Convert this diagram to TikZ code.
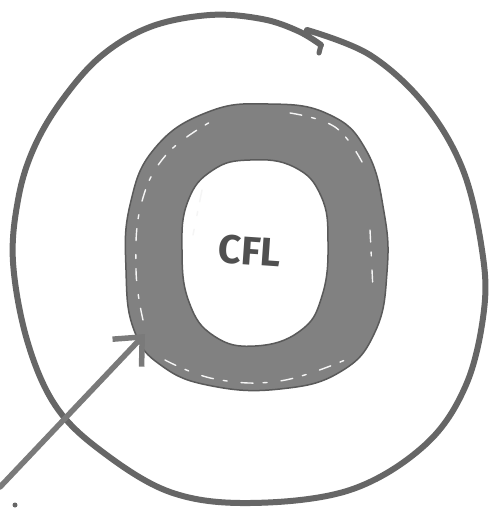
\documentclass[tikz,border=0pt]{standalone}
\usepackage{fontspec}
\setmainfont{Fira Sans}
\usetikzlibrary{arrows.meta}
\definecolor{penline}{HTML}{666666}
\definecolor{arrowline}{HTML}{7A7A7A}
\definecolor{ringfill}{HTML}{818181}
\definecolor{ringedge}{HTML}{5A5A5A}
\definecolor{textgray}{HTML}{505050}
\tikzset{
  pen/.style={draw=penline, line width=6pt, line cap=round, line join=round},
  ringstyle/.style={fill=ringfill, even odd rule, draw=ringedge, line width=1.5pt},
  streak/.style={draw=white!92!gray, line width=1.4pt, dash pattern=on 12pt off 10pt on 4pt off 14pt, line cap=round},
  pointer/.style={draw=arrowline, line width=5.5pt, line cap=round, -{Straight Barb[length=22pt,width=40pt,line width=5.5pt]}},
  label/.style={text=textgray, font=\fontsize{40}{40}\selectfont\bfseries, inner sep=0pt}
}
\begin{document}
\begin{tikzpicture}[x=1pt,y=-1pt]
\useasboundingbox[fill=white] (0,0) rectangle (489,508);
% outer hand-drawn circle
\draw[pen] plot[smooth, tension=0.6] coordinates {
 (307,30) (370,55) (425,105) (463,170) (482,250) (484,310) (466,385)
 (425,445) (350,490) (250,503) (170,492) (100,450) (55,405) (27,340)
 (13,262) (18,200) (33,150) (60,103) (100,57) (150,27) (210,15) (262,19)
 (298,31) (321,45)};
\draw[pen, line width=5pt] (321,45) -- (319,53);
% ring
\path[ringstyle] plot[smooth cycle, tension=0.75] coordinates {
 (268,104) (328,114) (366,150) (384,212) (387,272) (375,332) (340,372)
 (280,389) (212,386) (162,366) (134,330) (126,270) (130,205) (155,148) (208,112)}
 plot[smooth cycle, tension=0.75] coordinates {
 (250,160) (294,167) (321,196) (328,242) (322,296) (300,331) (255,346)
 (214,336) (189,302) (182,250) (188,201) (213,170)};
% light streaks in the marker ring
\draw[streak] plot[smooth, tension=0.7] coordinates {(143,320) (136,270) (141,205) (166,155) (212,121)};
\draw[streak] plot[smooth, tension=0.7] coordinates {(290,113) (335,127) (362,162)};
\draw[streak] plot[smooth, tension=0.7] coordinates {(165,360) (215,379) (280,381) (345,360)};
\draw[streak] plot[smooth, tension=0.7] coordinates {(202,190) (193,235)};
\draw[streak] plot[smooth, tension=0.7] coordinates {(370,230) (373,290)};
% label
\node[label, rotate=-4] (cfl) at (250,251) {CFL};
% pointer arrow
\coordinate (tail) at (0,487);
\coordinate (tip) at (145,334);
\draw[pointer] (tail) -- (tip);
\fill[penline] (15,505) circle (2.5pt);
\end{tikzpicture}
\end{document}
